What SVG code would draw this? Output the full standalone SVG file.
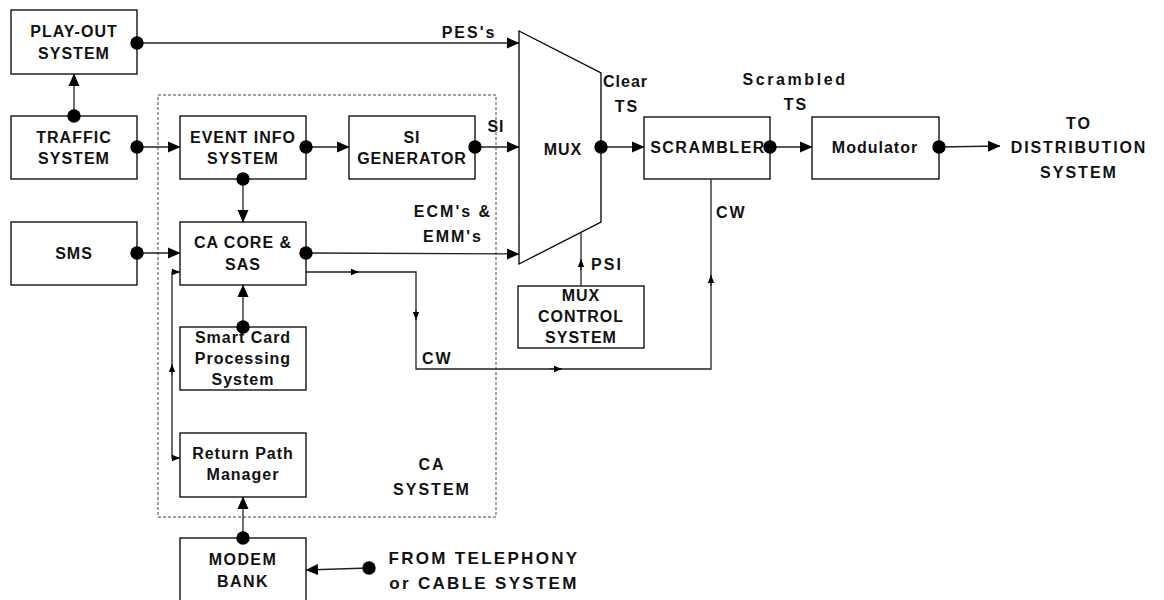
<svg xmlns="http://www.w3.org/2000/svg" width="1164" height="600" viewBox="0 0 1164 600">
<style>
.box{fill:#fff;stroke:#000;stroke-width:1.3}
.ca{fill:none;stroke:#444;stroke-width:1;stroke-dasharray:3,2}
.ln{fill:none;stroke:#222;stroke-width:1.3}
text{font-family:"Liberation Sans",Arial,sans-serif;font-weight:bold;font-size:16px;letter-spacing:1px;fill:#111;text-anchor:middle}
.lb{letter-spacing:2px}
.st{text-anchor:start}
.big{font-size:17px;letter-spacing:2.3px}
</style>
<defs>
<marker id="a" markerWidth="13" markerHeight="12" refX="12" refY="6" orient="auto" markerUnits="userSpaceOnUse"><path d="M0,0.5 L12.5,6 L0,11.5z" fill="#000"/></marker>
<marker id="s" markerWidth="9" markerHeight="8" refX="8" refY="4" orient="auto" markerUnits="userSpaceOnUse"><path d="M0,0.8 L8,4 L0,7.2z" fill="#000"/></marker>
<marker id="d" markerWidth="14" markerHeight="14" refX="7" refY="7" markerUnits="userSpaceOnUse"><circle cx="7" cy="7" r="6.7" fill="#000"/></marker>
</defs>

<rect id="ca-system" class="ca" x="158" y="95" width="338" height="422"/>
<text x="432" y="470" class="lb">CA</text>
<text x="432" y="495" class="lb">SYSTEM</text>

<g id="playout"><rect class="box" x="11" y="10" width="126" height="64"/><text x="74" y="37">PLAY-OUT</text><text x="74" y="59">SYSTEM</text></g>
<g id="traffic"><rect class="box" x="11" y="116" width="126" height="63"/><text x="74" y="143">TRAFFIC</text><text x="74" y="164">SYSTEM</text></g>
<g id="sms"><rect class="box" x="11" y="222" width="126" height="63"/><text x="74" y="259">SMS</text></g>
<g id="eventinfo"><rect class="box" x="180" y="116" width="126" height="63"/><text x="243" y="143">EVENT INFO</text><text x="243" y="164">SYSTEM</text></g>
<g id="sigen"><rect class="box" x="349" y="116" width="126" height="63"/><text x="412" y="143">SI</text><text x="412" y="164">GENERATOR</text></g>
<g id="cacore"><rect class="box" x="180" y="222" width="126" height="63"/><text x="243" y="248">CA CORE &amp;</text><text x="243" y="270">SAS</text></g>
<g id="smartcard"><rect class="box" x="180" y="327" width="126" height="63"/><text x="243" y="343">Smart Card</text><text x="243" y="364">Processing</text><text x="243" y="385">System</text></g>
<g id="returnpath"><rect class="box" x="180" y="433" width="126" height="64"/><text x="243" y="459">Return Path</text><text x="243" y="480">Manager</text></g>
<g id="modembank"><rect class="box" x="180" y="538" width="126" height="70"/><text x="243" y="565" style="letter-spacing:1.4px">MODEM</text><text x="243" y="587" style="letter-spacing:1.4px">BANK</text></g>
<g id="mux"><polygon class="box" points="519,31 601,73 601,222 519,264"/><text x="563" y="155">MUX</text></g>
<g id="muxcontrol"><rect class="box" x="518" y="286" width="126" height="62"/><text x="581" y="301">MUX</text><text x="581" y="322">CONTROL</text><text x="581" y="343">SYSTEM</text></g>
<g id="scrambler"><rect class="box" x="644" y="117" width="126" height="62"/><text x="708" y="153" style="letter-spacing:1.5px">SCRAMBLER</text></g>
<g id="modulator"><rect class="box" x="812" y="117" width="127" height="62"/><text x="875" y="153">Modulator</text></g>

<g id="connectors">
<path class="ln" d="M137,43 L519,43" marker-start="url(#d)" marker-end="url(#a)"/>
<path class="ln" d="M74,116 L74,74" marker-start="url(#d)" marker-end="url(#a)"/>
<path class="ln" d="M137,147 L180,147" marker-start="url(#d)" marker-end="url(#a)"/>
<path class="ln" d="M306,147 L349,147" marker-start="url(#d)" marker-end="url(#a)"/>
<path class="ln" d="M475,147 L519,147" marker-start="url(#d)" marker-end="url(#a)"/>
<path class="ln" d="M243,179 L243,222" marker-start="url(#d)" marker-end="url(#a)"/>
<path class="ln" d="M137,253 L180,253" marker-start="url(#d)" marker-end="url(#a)"/>
<path class="ln" d="M306,253 L519,254" marker-start="url(#d)" marker-end="url(#a)"/>
<path class="ln" d="M243,327 L243,285" marker-start="url(#d)" marker-end="url(#a)"/>
<path class="ln" d="M306,272 L416,272 L416,369 L711,369 L711,179"/>
<path class="ln" d="M350,272 L359,272" marker-end="url(#s)"/>
<path class="ln" d="M416,310 L416,320" marker-end="url(#s)"/>
<path class="ln" d="M550,369 L562,369" marker-end="url(#s)"/>
<path class="ln" d="M711,286 L711,275" marker-end="url(#s)"/>
<path class="ln" d="M180,458 L172,458 L172,272 L180,272" marker-end="url(#s)"/>
<path class="ln" d="M173,458 L180,458" marker-end="url(#s)"/>
<path class="ln" d="M172,375 L172,364" marker-end="url(#s)"/>
<path class="ln" d="M581,286 L581,232"/>
<path class="ln" d="M581,270 L581,259" marker-end="url(#s)"/>
<path class="ln" d="M601,147 L644,147" marker-start="url(#d)" marker-end="url(#a)"/>
<path class="ln" d="M770,147 L812,147" marker-start="url(#d)" marker-end="url(#a)"/>
<path class="ln" d="M939,147 L1000,146" marker-start="url(#d)" marker-end="url(#a)"/>
<path class="ln" d="M243,538 L243,497" marker-start="url(#d)" marker-end="url(#a)"/>
<path class="ln" d="M369,568 L306,570" marker-start="url(#d)" marker-end="url(#a)"/>
</g>

<g id="labels">
<text x="469" y="38" class="lb">PES's</text>
<text x="496" y="132">SI</text>
<text x="603" y="87" class="st">Clear</text>
<text x="627" y="112" class="lb">TS</text>
<text x="795" y="85" style="letter-spacing:2.6px">Scrambled</text>
<text x="796" y="110" class="lb">TS</text>
<text x="1079" y="129" style="letter-spacing:2px">TO</text>
<text x="1079" y="153" style="letter-spacing:1.9px">DISTRIBUTION</text>
<text x="1079" y="178" style="letter-spacing:2px">SYSTEM</text>
<text x="716" y="218" class="st lb">CW</text>
<text x="453" y="217" class="lb">ECM's &amp;</text>
<text x="453" y="242" class="lb">EMM's</text>
<text x="607" y="270" class="lb">PSI</text>
<text x="422" y="364" class="st lb">CW</text>
<text x="484" y="564" class="big">FROM TELEPHONY</text>
<text x="484" y="589" class="big">or CABLE SYSTEM</text>
</g>
</svg>
